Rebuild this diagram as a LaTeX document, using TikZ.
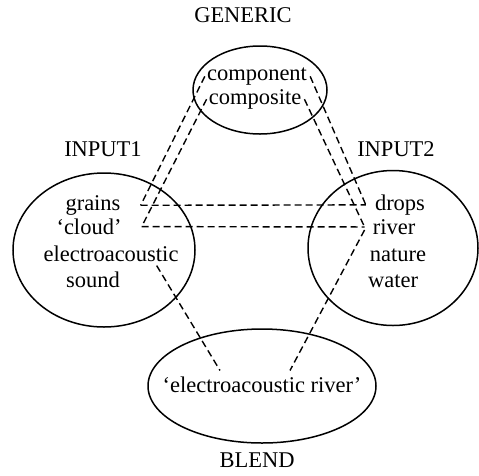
\documentclass[tikz,border=0pt]{standalone}
\usepackage{fontspec}
\setmainfont{Liberation Serif}
\usetikzlibrary{shapes.geometric}
\begin{document}
\begin{tikzpicture}[x=1pt, y=-1pt, font=\fontsize{22.5}{27}\selectfont,
		oval/.style={draw, ellipse, line width=1.5pt, inner sep=0pt},
		link/.style={line width=1.4pt, dash pattern=on 7pt off 4pt},
		word/.style={anchor=mid, inner sep=0pt}]
	\useasboundingbox (0,0) rectangle (479,475);
	\node[oval, minimum width=134, minimum height=88] (generic) at (260,90) {};
	\node[oval, minimum width=182, minimum height=154] (input1) at (104,250) {};
	\node[oval, minimum width=170, minimum height=155] (input2) at (393,248) {};
	\node[oval, minimum width=228, minimum height=114] (blend) at (262,386) {};
	\node[word] (gtitle) at (243,20) {GENERIC};
	\node[word] (ititle1) at (103,154) {INPUT1};
	\node[word] (ititle2) at (396,154) {INPUT2};
	\node[word] (btitle) at (257,465) {BLEND};
	\node[word] (component) at (257,78) {component};
	\node[word] (composite) at (255,102) {composite};
	\node[word] (grains) at (93,208) {grains};
	\node[word] (cloud) at (89,232) {`cloud'};
	\node[word] (electro) at (111,259) {electroacoustic};
	\node[word] (sound) at (93,285) {sound};
	\node[word] (drops) at (400,208) {drops};
	\node[word] (river) at (394,232) {river};
	\node[word] (nature) at (398,259) {nature};
	\node[word] (water) at (393,285) {water};
	\node[word] (eriver) at (262,390) {`electroacoustic river'};
	\draw[link] ([xshift=-2pt]component.west) -- ([xshift=20pt]grains.east);
	\draw[link] ([xshift=-2pt]composite.west) -- ([xshift=20pt]cloud.east);
	\draw[link] ([xshift=3pt]component.east) -- ([xshift=-9pt]drops.west);
	\draw[link] ([xshift=3pt]composite.east) -- ([xshift=-8pt]river.west);
	\draw[link] ([xshift=20pt]grains.east) -- ([xshift=-9pt]drops.west);
	\draw[link] ([xshift=20pt]cloud.east) -- ([xshift=-8pt]river.west);
	\draw[link] ([xshift=-22pt,yshift=-12pt]electro.east) -- ([xshift=-42pt,yshift=6pt]eriver.north);
	\draw[link] ([xshift=-8pt,yshift=-3pt]river.west) -- ([xshift=28pt,yshift=6pt]eriver.north);
\end{tikzpicture}
\end{document}
